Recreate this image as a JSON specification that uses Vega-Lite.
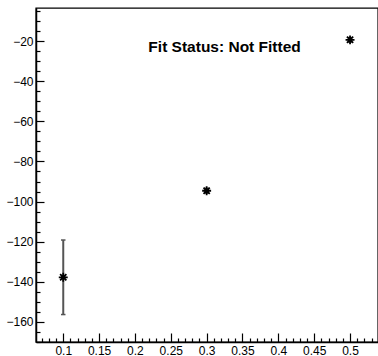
{
  "$schema": "https://vega.github.io/schema/vega-lite/v6.json",
  "width": 342,
  "height": 334,
  "autosize": "none",
  "padding": {"left": 36, "top": 8, "right": 0, "bottom": 14},
  "background": "white",
  "config": {
    "view": {"stroke": "black", "strokeWidth": 1.4},
    "font": "Liberation Sans",
    "axis": {
      "grid": false,
      "title": null,
      "domainColor": "black",
      "domainWidth": 1.5,
      "tickColor": "black",
      "tickWidth": 1.2,
      "labelColor": "black",
      "labelFont": "Liberation Sans",
      "labelFontSize": 12,
      "labelFlush": false,
      "labelOverlap": false
    }
  },
  "datasets": {
    "points": [
      {"x": 0.1, "y": -137.8, "ylo": -156.4, "yhi": -119.2},
      {"x": 0.3, "y": -94.6, "ylo": -95.8, "yhi": -93.4},
      {"x": 0.5, "y": -19.3, "ylo": -20.4, "yhi": -18.2}
    ],
    "status": [
      {"x": 0.325, "y": -25.2, "text": "Fit Status: Not Fitted"}
    ]
  },
  "resolve": {"axis": {"x": "independent", "y": "independent"}},
  "layer": [
    {
      "data": {"name": "points"},
      "mark": {"type": "rule", "color": "#555555", "strokeWidth": 2},
      "encoding": {
        "x": {
          "field": "x",
          "type": "quantitative",
          "scale": {"domain": [0.062, 0.539], "nice": false, "zero": false},
          "axis": {
            "orient": "bottom",
            "format": ".2~f",
            "values": [0.1, 0.15, 0.2, 0.25, 0.3, 0.35, 0.4, 0.45, 0.5],
            "tickSize": -9,
            "labelPadding": 12
          }
        },
        "y": {
          "field": "ylo",
          "type": "quantitative",
          "scale": {"domain": [-170.1, -3.4], "nice": false, "zero": false},
          "axis": {
            "orient": "left",
            "values": [-160, -140, -120, -100, -80, -60, -40, -20],
            "tickSize": -8,
            "labelPadding": 11
          }
        },
        "y2": {"field": "yhi"}
      }
    },
    {
      "data": {"name": "points"},
      "mark": {"type": "point", "shape": "M-1,0L1,0", "size": 20, "filled": false, "stroke": "#555555", "strokeWidth": 1.5, "opacity": 1},
      "encoding": {
        "x": {
          "field": "x",
          "type": "quantitative",
          "axis": {
            "orient": "bottom",
            "values": [0.07, 0.08, 0.09, 0.11, 0.12, 0.13, 0.14, 0.16, 0.17, 0.18, 0.19, 0.21, 0.22, 0.23, 0.24, 0.26, 0.27, 0.28, 0.29, 0.31, 0.32, 0.33, 0.34, 0.36, 0.37, 0.38, 0.39, 0.41, 0.42, 0.43, 0.44, 0.46, 0.47, 0.48, 0.49, 0.51, 0.52, 0.53],
            "tickSize": -4,
            "labels": false,
            "domain": false
          }
        },
        "y": {
          "field": "ylo",
          "type": "quantitative",
          "axis": {
            "orient": "left",
            "values": [-170, -165, -155, -150, -145, -135, -130, -125, -115, -110, -105, -95, -90, -85, -75, -70, -65, -55, -50, -45, -35, -30, -25, -15, -10, -5],
            "tickSize": -4,
            "labels": false,
            "domain": false
          }
        }
      }
    },
    {
      "data": {"name": "points"},
      "mark": {"type": "point", "shape": "M-1,0L1,0", "size": 20, "filled": false, "stroke": "#555555", "strokeWidth": 1.5, "opacity": 1},
      "encoding": {
        "x": {"field": "x", "type": "quantitative", "axis": null},
        "y": {"field": "yhi", "type": "quantitative", "axis": null}
      }
    },
    {
      "data": {"name": "points"},
      "mark": {
        "type": "point",
        "shape": "M-1,0L1,0M0,-1L0,1M-0.7,-0.7L0.7,0.7M-0.7,0.7L0.7,-0.7",
        "size": 80,
        "filled": false,
        "stroke": "black",
        "strokeWidth": 1.8,
        "opacity": 1
      },
      "encoding": {
        "x": {"field": "x", "type": "quantitative", "axis": null},
        "y": {"field": "y", "type": "quantitative", "axis": null}
      }
    },
    {
      "data": {"name": "status"},
      "mark": {"type": "text", "font": "Liberation Sans", "fontWeight": "bold", "fontSize": 15.5, "align": "center", "baseline": "alphabetic", "color": "black"},
      "encoding": {
        "x": {"field": "x", "type": "quantitative", "axis": null},
        "y": {"field": "y", "type": "quantitative", "axis": null},
        "text": {"field": "text"}
      }
    }
  ]
}
